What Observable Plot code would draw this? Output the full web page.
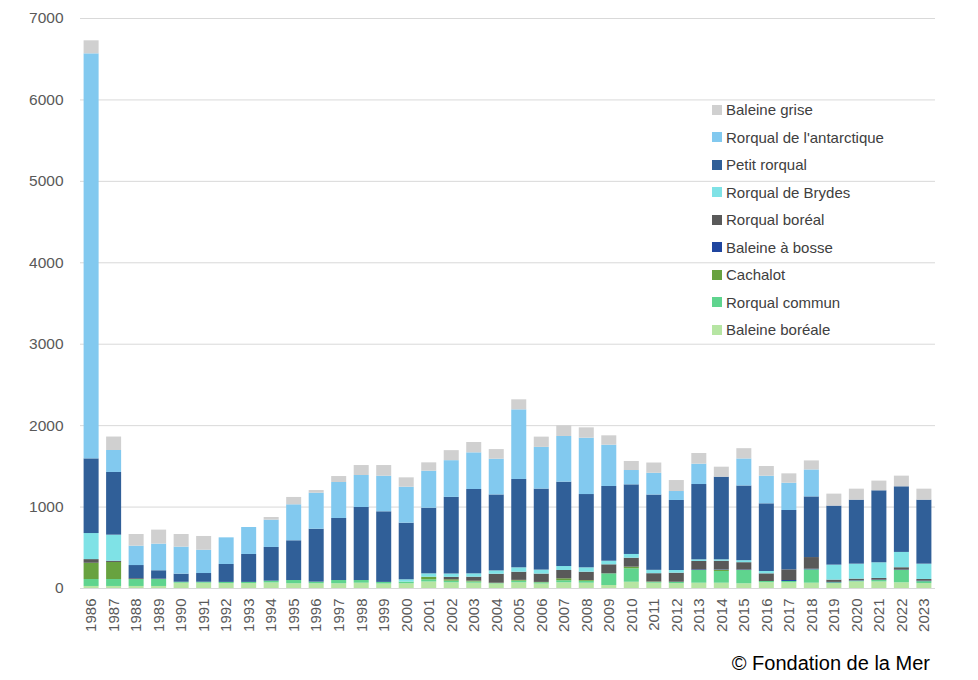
<!DOCTYPE html>
<html><head><meta charset="utf-8">
<script src="https://cdn.jsdelivr.net/npm/d3@7"></script>
<script src="https://cdn.jsdelivr.net/npm/@observablehq/plot@0.6"></script>
<style>
body{margin:0;background:#fff;font-family:"Liberation Sans",Arial,sans-serif;}
#wrap{position:relative;width:978px;height:680px;}
#legend{position:absolute;left:712px;top:96px;}
.row{height:27.5px;display:flex;align-items:center;font-size:15px;color:#404040;white-space:nowrap;}
.sw{width:10px;height:10px;margin-right:4px;flex:none;}
#caption{position:absolute;left:0;top:649px;width:930px;text-align:right;font-size:20px;line-height:28px;color:#000;}
</style></head><body>
<div id="wrap"><div id="chart"></div><div id="legend"></div><div id="caption">© Fondation de la Mer</div></div>
<script>
const years = ["1986","1987","1988","1989","1990","1991","1992","1993","1994","1995","1996","1997","1998","1999","2000","2001","2002","2003","2004","2005","2006","2007","2008","2009","2010","2011","2012","2013","2014","2015","2016","2017","2018","2019","2020","2021","2022","2023"];

const baleineBoreale = [25,25,25,25,65,65,60,60,68,58,58,58,65,55,58,80,70,65,55,70,55,70,65,37,77,65,60,65,65,58,71,70,65,60,80,80,70,60];
const rorqualCommun = [85,85,85,85,12,12,15,15,22,40,20,40,33,20,21,27,20,15,5,20,15,25,23,143,165,10,17,156,144,163,15,16,164,10,10,18,151,24];
const cachalot = [200,210,0,0,0,0,0,0,0,0,0,0,0,0,0,32,17,10,5,10,5,24,10,0,20,5,0,0,15,0,0,0,0,0,0,0,0,0];
const baleineBosse = [0,0,0,0,0,0,0,0,0,0,0,0,0,0,0,0,0,0,0,0,0,0,0,0,0,0,0,8,5,6,0,12,8,5,5,5,5,6];
const rorqualBoreal = [45,15,10,5,0,0,0,0,0,0,0,0,0,0,0,0,30,49,110,100,102,102,102,111,110,102,111,103,106,90,94,131,143,28,20,21,29,21];
const rorqualBrydes = [320,320,0,0,0,0,0,0,0,0,0,0,0,0,28,41,41,41,41,54,49,49,54,44,46,41,33,20,17,25,29,0,0,184,184,192,188,188];
const petitRorqual = [917,770,162,103,99,107,220,343,414,488,650,762,897,867,695,806,941,1036,933,1085,995,1036,900,918,855,925,860,925,1015,917,831,729,745,725,786,884,806,786];
const rorqualAntarctique = [4974,270,238,327,332,286,327,331,335,442,443,442,393,437,442,455,451,450,439,855,512,561,692,507,176,267,110,250,0,332,339,335,331,0,0,0,0,0];
const baleineGrise = [160,165,143,172,155,169,0,0,33,90,32,73,122,131,115,102,123,127,118,123,126,131,127,115,111,126,135,131,123,126,119,115,111,147,135,119,131,135];

const yTicks = [0,1000,2000,3000,4000,5000,6000,7000];

// bottom to top
const species = ["Baleine boréale","Rorqual commun","Cachalot","Baleine à bosse","Rorqual boréal","Rorqual de Brydes","Petit rorqual","Rorqual de l'antarctique","Baleine grise"];
const seriesValues = [baleineBoreale,rorqualCommun,cachalot,baleineBosse,rorqualBoreal,rorqualBrydes,petitRorqual,rorqualAntarctique,baleineGrise];
const colors = ["#b6e5a3","#5fd48e","#68a23f","#1f459f","#595959","#7fe2e6","#305f98","#82c9ef","#d0d0d0"];

const data = [];
species.forEach((s, i) => years.forEach((y, j) => data.push({year: y, species: s, value: seriesValues[i][j]})));

const chart = Plot.plot({
  width: 978,
  height: 650,
  marginLeft: 80,
  marginRight: 43,
  marginTop: 18,
  marginBottom: 62,
  style: {fontFamily: "Liberation Sans, Arial, sans-serif", fontSize: "15px", color: "#595959", background: "#fff"},
  x: {domain: years, paddingInner: 0.333, paddingOuter: 0.16, round: false, label: null},
  y: {domain: [0, 7000], label: null},
  color: {domain: species, range: colors},
  marks: [
    Plot.gridY(yTicks, {stroke: "#d9d9d9", strokeOpacity: 1}),
    Plot.barY(data, Plot.stackY({x: "year", y: "value", fill: "species", order: species})),
    Plot.ruleY([0], {stroke: "#d9d9d9"}),
    Plot.axisY(yTicks, {tickSize: 0, tickPadding: 17, label: null, tickFormat: d => String(d), fill: "#595959", fontSize: 15.5}),
    Plot.axisX({tickSize: 0, tickRotate: -90, tickPadding: 10, label: null, fill: "#595959", fontSize: 15})
  ]
});
document.getElementById("chart").appendChild(chart);

const legend = document.getElementById("legend");
[...species].reverse().forEach((s) => {
  const i = species.indexOf(s);
  const row = document.createElement("div");
  row.className = "row";
  const sw = document.createElement("span");
  sw.className = "sw";
  sw.style.background = colors[i];
  const t = document.createElement("span");
  t.textContent = s;
  row.appendChild(sw); row.appendChild(t);
  legend.appendChild(row);
});
</script>
</body></html>
